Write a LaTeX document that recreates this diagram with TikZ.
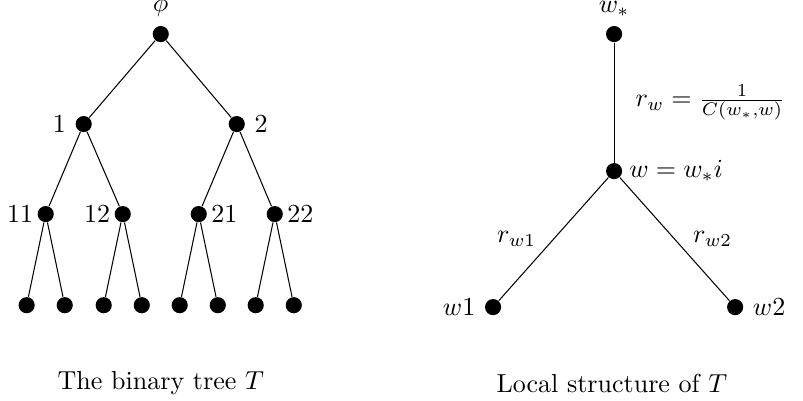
\documentclass[tikz,border=0pt]{standalone}
\usepackage{amsmath,amssymb}
\usepackage{tikz}
\usetikzlibrary{
	positioning
}

\begin{document}
\begin{tikzpicture}[
		dot/.style={circle, fill, inner sep=0pt, minimum size=6.2pt},
		on grid
	]
		\useasboundingbox (0,0) rectangle (10.84,-5.41);

		% the binary tree
		\node[dot, label=above:$\phi$] (phi) at (2.17,-0.46) {};

		\node[dot, label=left:$1$, below left=1.215cm and 1.04cm of phi] (n1) {};
		\node[dot, label=right:$2$, below right=1.215cm and 1.026cm of phi] (n2) {};

		\node[dot, label={[label distance=-2pt]left:$11$}, below left=1.215cm and 0.513cm of n1] (n11) {};
		\node[dot, label={[label distance=-2pt]left:$12$}, below right=1.215cm and 0.527cm of n1] (n12) {};
		\node[dot, label={[label distance=-2pt]right:$21$}, below left=1.215cm and 0.513cm of n2] (n21) {};
		\node[dot, label={[label distance=-2pt]right:$22$}, below right=1.215cm and 0.513cm of n2] (n22) {};

		\node[dot, below left=1.23cm and 0.257cm of n11] (n111) {};
		\node[dot, below right=1.23cm and 0.257cm of n11] (n112) {};
		\node[dot, below left=1.23cm and 0.257cm of n12] (n121) {};
		\node[dot, below right=1.23cm and 0.257cm of n12] (n122) {};
		\node[dot, below left=1.23cm and 0.257cm of n21] (n211) {};
		\node[dot, below right=1.23cm and 0.257cm of n21] (n212) {};
		\node[dot, below left=1.23cm and 0.257cm of n22] (n221) {};
		\node[dot, below right=1.23cm and 0.257cm of n22] (n222) {};

		\draw (phi) -- (n1) (phi) -- (n2)
			(n1) -- (n11) (n1) -- (n12)
			(n2) -- (n21) (n2) -- (n22)
			(n11) -- (n111) (n11) -- (n112)
			(n12) -- (n121) (n12) -- (n122)
			(n21) -- (n211) (n21) -- (n212)
			(n22) -- (n221) (n22) -- (n222);

		\node (cap1) at (2.17,-5.17) {The binary tree $T$};

		% local structure
		\node[dot, label=above:$w_*$] (ws) at (8.29,-0.46) {};
		\node[dot, label={[label distance=-1pt]right:$w=w_*i$}, below=1.85cm of ws] (w) {};
		\node[dot, label=left:$w1$, below left=1.836cm and 1.634cm of w] (w1) {};
		\node[dot, label=right:$w2$, below right=1.836cm and 1.634cm of w] (w2) {};

		\draw (ws) -- node[right=4.7pt] (rw) {$r_w=\frac{1}{C(w_*,w)}$} (w);
		\draw (w) -- node[left=3.2pt] (rw1) {$r_{w1}$} (w1);
		\draw (w) -- node[right=3.6pt] (rw2) {$r_{w2}$} (w2);

		\node (cap2) at (8.26,-5.17) {Local structure of $T$};
	\end{tikzpicture}
\end{document}
